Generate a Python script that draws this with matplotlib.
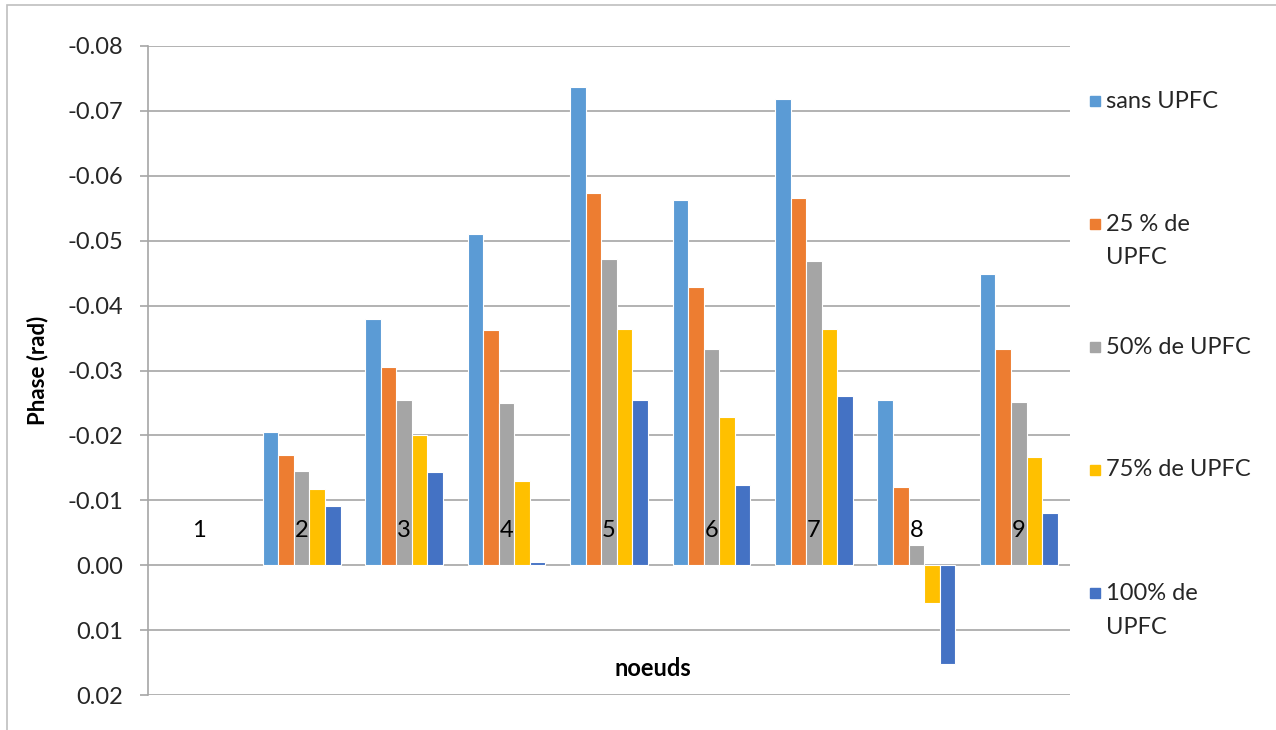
import numpy as np
import matplotlib
matplotlib.use("Agg")
import matplotlib.pyplot as plt
from matplotlib.patches import Rectangle

plt.rcParams['font.family'] = ['Lato', 'DejaVu Sans']

# phase angle (rad) at each node for the different UPFC compensation levels
nodes = ['1', '2', '3', '4', '5', '6', '7', '8', '9']
sans_upfc = [0, -0.0205, -0.0379, -0.0510, -0.0737, -0.0563, -0.0719, -0.0254, -0.0448]
upfc_25 = [0, -0.0170, -0.0306, -0.0362, -0.0574, -0.0429, -0.0566, -0.0120, -0.0333]
upfc_50 = [0, -0.0145, -0.0254, -0.0250, -0.0472, -0.0333, -0.0468, -0.0031, -0.0252]
upfc_75 = [0, -0.0118, -0.0200, -0.0129, -0.0364, -0.0229, -0.0364, 0.0059, -0.0167]
upfc_100 = [0, -0.0091, -0.0144, -0.0005, -0.0255, -0.0123, -0.0260, 0.0153, -0.0080]

series = [sans_upfc, upfc_25, upfc_50, upfc_75, upfc_100]
labels = ['sans UPFC', '25 % de\nUPFC', '50% de UPFC', '75% de UPFC', '100% de\nUPFC']
colors = ['#5B9BD5', '#ED7D31', '#A5A5A5', '#FFC000', '#4472C4']
yticks = [-0.08, -0.07, -0.06, -0.05, -0.04, -0.03, -0.02, -0.01, 0.0, 0.01, 0.02]

W, H = 1276, 730
fig = plt.figure(figsize=(W / 100, H / 100), dpi=100)
ax = fig.add_axes([148 / W, 1 - 695 / H, (1070 - 148) / W, (695 - 46) / H])

grid_col = '#a6a6a6'
x = np.arange(len(nodes))
bw = 0.152
for i, (vals, c) in enumerate(zip(series, colors)):
    # no white outline on empty bars so the zero line stays unbroken
    lws = [0.8 if v != 0 else 0 for v in vals]
    ax.bar(x + (i - 2) * bw, vals, bw, color=c, edgecolor='white',
           linewidth=lws, zorder=3)

ax.set_xlim(-0.5, len(nodes) - 0.5)
ax.set_ylim(0.02, -0.08)
ax.set_yticks(yticks)
ax.set_yticklabels([f"{round(v, 2) + 0.0:.2f}" for v in yticks])
ax.set_xticks([])
ax.yaxis.grid(True, color=grid_col, linewidth=1.2, zorder=0)
ax.set_axisbelow(True)
for s in ['top', 'right', 'bottom']:
    ax.spines[s].set_visible(False)
ax.spines['left'].set_color(grid_col)
ax.spines['left'].set_linewidth(1.2)
ax.tick_params(axis='y', length=6, width=1.2, color=grid_col, pad=12,
               labelsize=17, labelcolor='#262626')

# node numbers sit just above the zero line
for xi, name in zip(x, nodes):
    ax.text(xi, -0.0054, name, ha='center', va='center', fontsize=17, color='black')

ax.set_ylabel('Phase (rad)', fontsize=16, fontweight='bold')
ax.yaxis.set_label_coords(-0.108, 0.5)
fig.text(653 / W, 1 - 668 / H, 'noeuds', ha='center', va='center',
         fontsize=17, fontweight='bold')

# legend on the right, square aligned with the first line of each entry
for k, (lab, c) in enumerate(zip(labels, colors)):
    y0 = 101 + k * 123
    fig.patches.append(Rectangle((1090 / W, 1 - (y0 + 5) / H), 10 / W, 10 / H,
                                 transform=fig.transFigure, color=c))
    for j, line in enumerate(lab.split('\n')):
        fig.text(1106 / W, 1 - (y0 + j * 34) / H, line, ha='left',
                 va='center', fontsize=17, color='#262626')

# light frame around the chart
fig.patches.append(Rectangle((7 / W, -0.1), 1.2, 1 - 5 / H + 0.1,
                             transform=fig.transFigure, fill=False,
                             edgecolor='#bfbfbf', linewidth=1.2))

fig.savefig('out.png', dpi=100)
